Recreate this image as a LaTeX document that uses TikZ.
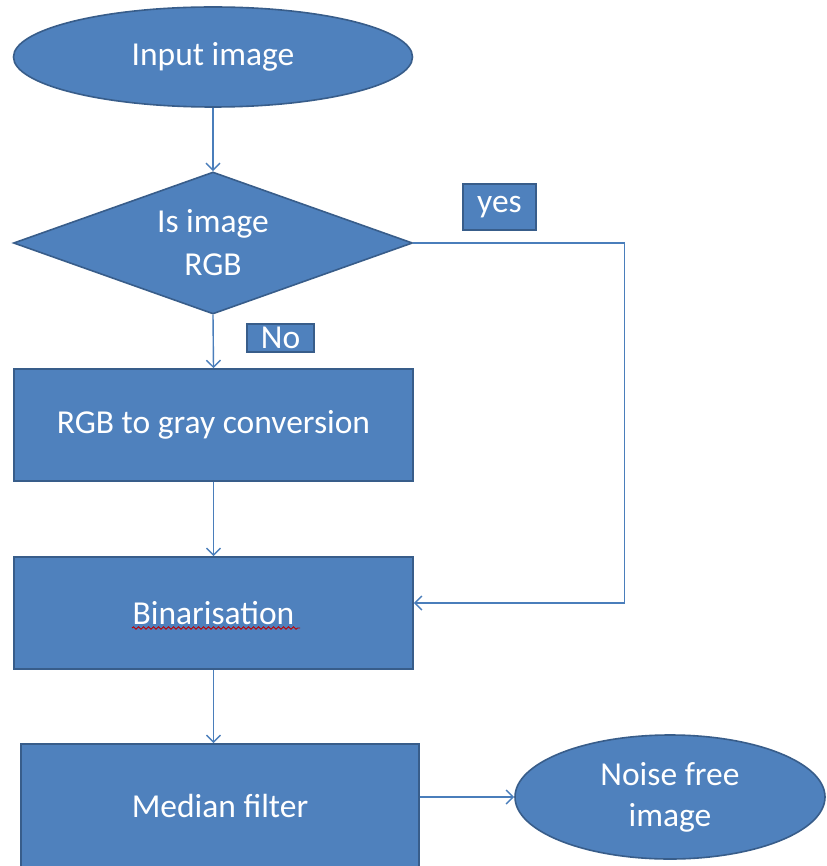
\documentclass[tikz,border=0pt]{standalone}
\usepackage{fontspec}
\setmainfont{Carlito}
\usetikzlibrary{shapes.geometric,arrows.meta,calc,decorations.pathmorphing}
\definecolor{boxfill}{HTML}{4F81BD}
\definecolor{boxline}{HTML}{385D8A}
\definecolor{wire}{HTML}{4A7EBB}
\tikzset{
  base/.style={fill=boxfill, draw=boxline, line width=1.6pt, text=white,
    font=\fontsize{33.5}{43}\selectfont, align=center, inner sep=0pt},
  terminal/.style={base, ellipse},
  decision/.style={base, diamond, shape aspect=2.8},
  process/.style={base, rectangle},
  tag/.style={base, rectangle, line width=2.4pt},
  flow/.style={draw=wire, line width=1.4pt, -{Straight Barb[length=7pt,width=14pt]}},
}
\begin{document}
\begin{tikzpicture}[x=1pt,y=-1pt]
  \clip (0,0) rectangle (826,866);
  \fill[white] (0,0) rectangle (826,866);

  % main column
  \node[terminal, minimum width=399, minimum height=100] (input) at (213,57) {Input image};
  \node[decision, minimum width=399, minimum height=142] (rgbq) at (213,243) {Is image\\RGB};
  \node[process, minimum width=399, minimum height=112] (gray) at (213.5,425) {RGB to gray conversion};
  \node[process, minimum width=399, minimum height=112] (bin) at (213.5,613) {Binarisation};
  \node[process, minimum width=398, minimum height=124] (median) at (220,806) {Median filter};
  \node[terminal, minimum width=310, minimum height=124, font=\fontsize{33.5}{41}\selectfont] (out) at (670,797) {Noise free\\image};

  % branch labels
  \node[tag, minimum width=73, minimum height=46] (yes) at (499.5,207) {yes};
  \node[tag, minimum width=67, minimum height=28] (no) at (280.5,338) {No};

  % spell-check squiggle under the binarisation label
  \draw[red!75!black, line width=0.9pt, decorate,
        decoration={snake, amplitude=1.2pt, segment length=5pt}]
        (132,628) -- (300,628);

  % connectors
  \draw[flow] (input.south) -- (rgbq.north);
  \draw[flow] (rgbq.south) -- (gray.north);
  \draw[flow] (gray.south) -- (bin.north);
  \draw[flow] (bin.south) -- (bin.south |- median.north);
  \coordinate (turn) at ($(rgbq.east)+(211,0)$);
  \draw[flow] (rgbq.east) -- (turn) |- ($(bin.east)+(0,-10)$);
  \draw[flow] (median.east |- out.west) -- (out.west);
\end{tikzpicture}
\end{document}
